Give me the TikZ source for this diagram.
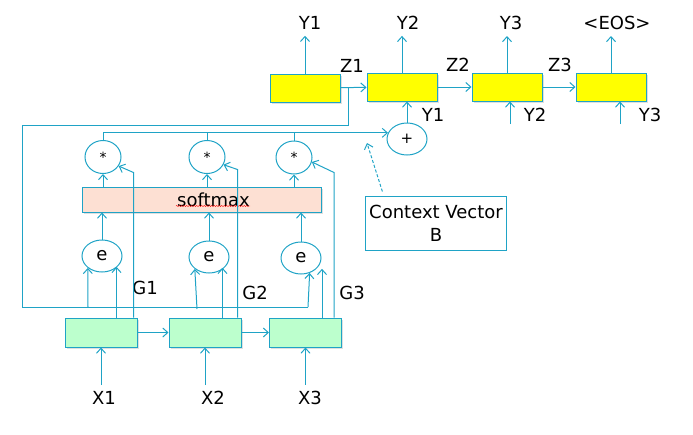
\documentclass[tikz,border=0pt]{standalone}
\usepackage{fontspec}
\setmainfont{DejaVu Sans}
\usetikzlibrary{calc,arrows.meta,shapes.geometric,shadows,decorations.pathmorphing}
\definecolor{lineblue}{HTML}{1FA3C6}
\definecolor{decfill}{HTML}{FFFF00}
\definecolor{encfill}{HTML}{BCFFCD}
\definecolor{softfill}{HTML}{FDE0D3}

\begin{document}
\begin{tikzpicture}[x=1pt,y=-1pt,
    every node/.style={font=\fontsize{18}{20}\selectfont},
    wire/.style={draw=lineblue, line width=1pt},
    link/.style={wire, -{Straight Barb[length=5pt,width=9pt]}},
    lbl/.style={inner sep=6pt},
    cell/.style={rectangle, wire, inner sep=0pt,
        drop shadow={shadow xshift=1.5pt, shadow yshift=-1.5pt, opacity=0.25}},
    dec/.style={cell, fill=decfill, minimum width=70pt, minimum height=28pt},
    enc/.style={cell, fill=encfill, minimum width=72pt, minimum height=29pt},
    op/.style={ellipse, wire, inner sep=0pt, minimum width=40pt, minimum height=32pt},
    star/.style={op, minimum width=36pt, minimum height=33pt}]
    \useasboundingbox (0,0) rectangle (693,434);

    % decoder
    \node[dec] (dec1) at (305,88) {};
    \node[dec] (dec2) at (402,87) {};
    \node[dec] (dec3) at (507,87) {};
    \node[dec] (dec4) at (611,87) {};

    \node[lbl] (yo1) at (310,23) {Y1};
    \node[lbl] (yo2) at (408,23) {Y2};
    \node[lbl] (yo3) at (511,23) {Y3};
    \node[lbl] (yo4) at (617,23) {<EOS>};
    \foreach \i in {1,...,4}
        \draw[link] (dec\i.north) -- (dec\i.north |- yo\i.south);

    \node (z1) at (352,66) {Z1};
    \node (z2) at (458,65) {Z2};
    \node (z3) at (560,65) {Z3};
    \draw[link] (dec1) -- (dec2);
    \draw[link] (dec2) -- (dec3);
    \draw[link] (dec3) -- (dec4);

    \node (yi1) at (433,115) {Y1};
    \node (yi2) at (535,115) {Y2};
    \node (yi3) at (650,115) {Y3};
    \coordinate (t2) at (510,124);
    \coordinate (t3) at (620,124);
    \draw[link] (t2) -- (t2 |- dec3.south);
    \draw[link] (t3) -- (t3 |- dec4.south);

    % attention
    \node[op] (sum) at (407,139) {\fontsize{15}{15}\selectfont +};
    \draw[link] (sum) -- (sum |- dec2.south);

    \node[star] (s1) at (103,157) {\raisebox{-3pt}{\fontsize{14}{14}\selectfont *}};
    \node[star] (s2) at (207,157) {\raisebox{-3pt}{\fontsize{14}{14}\selectfont *}};
    \node[star] (s3) at (294,157.5) {\raisebox{-3pt}{\fontsize{14}{14}\selectfont *}};
    \draw[link] (s1.north) |- (sum.162);
    \draw[wire] (s2.north) -- (s2.north |- sum.162);
    \draw[wire] (s3.north) -- (s3.north |- sum.162);

    \node[cell, fill=softfill, minimum width=239pt, minimum height=25pt, drop shadow={opacity=0}] (soft) at (201.5,199.5) {\hspace*{24pt}softmax};
    \draw[red, decorate, decoration={snake, amplitude=0.6pt, segment length=2.5pt}]
        (176,206) -- (250,206);
    \foreach \i in {1,2,3}
        \draw[link] (s\i |- soft.north) -- (s\i);

    \node[op] (e1) at (102,256) {e};
    \node[op] (e2) at (209,257) {e};
    \node[op] (e3) at (301,258) {e};
    \foreach \i in {1,2,3}
        \draw[link] (e\i) -- (e\i |- soft.south);

    % encoder
    \node[enc] (enc1) at (101,332.5) {};
    \node[enc] (enc2) at (205,332.5) {};
    \node[enc] (enc3) at (305.5,332.5) {};
    \draw[link] (enc1) -- (enc2);
    \draw[link] (enc2) -- (enc3);

    \node[lbl] (x1) at (104,398) {X1};
    \node[lbl] (x2) at (213,398) {X2};
    \node[lbl] (x3) at (310,398) {X3};
    \foreach \i in {1,2,3}
        \draw[link] (enc\i.south |- x\i.north) -- (enc\i.south);

    \node (g1) at (145,288) {G1};
    \node (g2) at (255,293) {G2};
    \node (g3) at (352,293) {G3};
    \coordinate (gl1) at ($(enc1.north east)+(-4,0)$);
    \coordinate (gl2) at ($(enc2.north east)+(-4,0)$);
    \coordinate (gl3) at ($(enc3.north east)+(-8,0)$);
    \draw[link] (gl1) -- ++(0,-145) -- (s1.-30);
    \draw[link] (gl2) -- ++(0,-148) -- (s2.-25);
    \draw[link] (gl3) -- ++(0,-145) -- (s3.-14);

    \coordinate (h1) at ($(enc1.north east)+(-21,0)$);
    \coordinate (h2) at ($(enc2.north east)+(-19,0)$);
    \coordinate (h3) at ($(enc3.north east)+(-20,0)$);
    \draw[link] (h1) -- (h1 |- e1.-35);
    \draw[link] (h2) -- (h2 |- e2.-35);
    \draw[link] (h3) -- (h3 |- e3.-35);

    % decoder state fed back to the scores
    \coordinate (b1) at (88,307);
    \coordinate (b2) at (197,309);
    \coordinate (b3) at (308,307);
    \draw[wire] ($(dec1.east)+(8,0)$) |- (22,125) |- (b3);
    \draw[link] (b1) -- (e1.-140);
    \draw[link] (b2) -- (e2.-140);
    \draw[link] (b3) -- (e3.-60);

    \node[wire, rectangle, minimum width=120pt, minimum height=54pt, align=center,
        font=\fontsize{18}{23}\selectfont] (ctx) at (436,223) {Context Vector\\B};
    \coordinate (ctxtip) at (367,143);
    \draw[link, dash pattern=on 3pt off 2pt] ($(ctx.north west)+(17,-4)$) -- (ctxtip);
\end{tikzpicture}
\end{document}
